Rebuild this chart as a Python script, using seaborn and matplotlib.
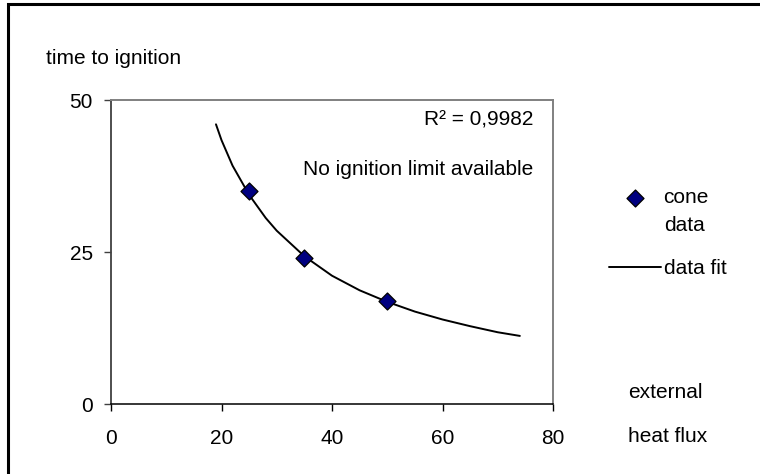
import matplotlib
matplotlib.use("Agg")
import matplotlib.pyplot as plt
import seaborn as sns
from matplotlib.lines import Line2D

# data
heat_flux = [25, 35, 50]
time_to_ignition = [35, 24, 17]
fit_flux = [19, 20, 22, 25, 28, 30, 35, 40, 45, 50, 55, 60, 65, 70, 74]
fit_time = [46.0, 43.4, 39.2, 34.4, 30.6, 28.5, 24.3, 21.1, 18.7, 16.8, 15.2, 13.9, 12.8, 11.8, 11.2]
x_ticks = [0, 20, 40, 60, 80]
y_ticks = [0, 25, 50]

sns.set_theme(style="white")
plt.rcParams['font.family'] = ['Liberation Sans', 'DejaVu Sans']
plt.rcParams['text.color'] = 'black'
FS = 15

W, H = 760, 474
fig = plt.figure(figsize=(W / 100, H / 100), dpi=100)
fig.patch.set_facecolor('white')
ax = fig.add_axes([111 / W, 1 - 404 / H, 442 / W, 304 / H])

sns.lineplot(x=fit_flux, y=fit_time, ax=ax, color='black', lw=1.4,
             label='data fit', zorder=2)
sns.scatterplot(x=heat_flux, y=time_to_ignition, ax=ax, marker='D', s=75,
                color='#000080', edgecolor='black', linewidth=0.9,
                label='cone', zorder=3)

ax.set_xlim(0, 80)
ax.set_ylim(0, 50)
ax.set_xticks(x_ticks)
ax.set_yticks(y_ticks)
ax.set_xlabel('')
ax.set_ylabel('')

for side in ['top', 'right']:
    ax.spines[side].set_color('#808080')
    ax.spines[side].set_linewidth(1.4)
ax.spines['left'].set_color('#404040')
ax.spines['left'].set_linewidth(1.3)
ax.spines['bottom'].set_color('black')
ax.spines['bottom'].set_linewidth(1.1)

ax.tick_params(axis='x', direction='out', length=5, width=1, color='black',
               labelsize=FS, pad=13, bottom=True, labelcolor='black')
ax.tick_params(axis='y', direction='out', length=5, width=1, color='#404040',
               labelsize=FS, pad=8, left=True, labelcolor='black')

ax.text(76.4, 46.7, 'R² = 0,9982', ha='right', va='center', fontsize=FS, color='black')
ax.text(76.4, 38.5, 'No ignition limit available', ha='right', va='center',
        fontsize=FS, color='black')

fig.text(46 / W, 1 - 58 / H, 'time to ignition', ha='left', va='center',
         fontsize=FS, color='black')
fig.text(628 / W, 1 - 392 / H, 'external', ha='left', va='center',
         fontsize=FS, color='black')
fig.text(628 / W, 1 - 436 / H, 'heat flux', ha='left', va='center',
         fontsize=FS, color='black')

handles, labels = ax.get_legend_handles_labels()
order = [labels.index('cone'), labels.index('data fit')]
leg = ax.legend([handles[i] for i in order], [labels[i] for i in order],
                loc='upper left', bbox_to_anchor=(609 / W, 1 - 188 / H),
                bbox_transform=fig.transFigure, frameon=False, fontsize=FS,
                handlelength=2.5, handletextpad=0.12, labelspacing=2.5,
                borderpad=0, borderaxespad=0, labelcolor='black')
# second line of the "cone data" legend label
fig.text(664 / W, 1 - 226 / H, 'data', ha='left', va='center',
         fontsize=FS, color='black')

# chart-area border (only top and left edges fall inside the picture)
fig.add_artist(Line2D([8 / W, 8 / W, 1.0], [0.0, 1 - 4 / H, 1 - 4 / H],
                      transform=fig.transFigure, color='black', linewidth=2.2,
                      solid_joinstyle='miter'))

fig.savefig('out.png', dpi=100, facecolor='white')
